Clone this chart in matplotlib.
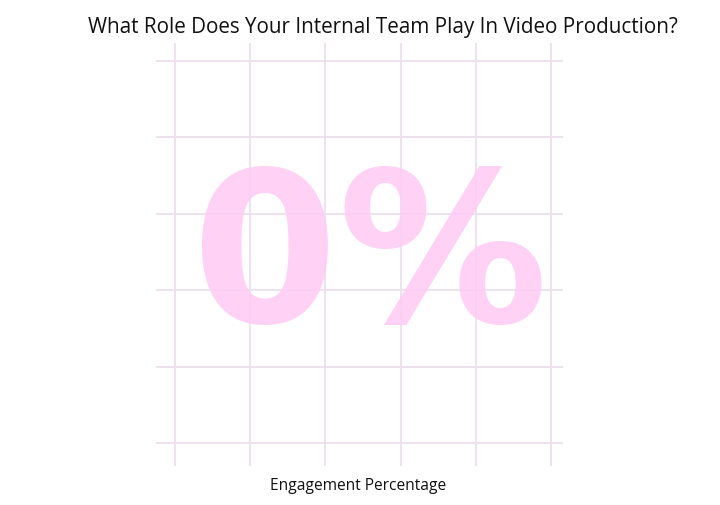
import matplotlib
matplotlib.use("Agg")
import matplotlib.pyplot as plt

# chart data
title = "What Role Does Your Internal Team Play In Video Production?"
x_label = "Engagement Percentage"
value_text = "0%"
x_ticks = [0, 1, 2, 3, 4, 5]
y_ticks = [0, 1, 2, 3, 4, 5]

grid_color = "#eedfee"
pink = "#ffcdf4"

plt.rcParams['font.family'] = ['Open Sans', 'DejaVu Sans']

fig = plt.figure(figsize=(7.2, 5.06), dpi=100)
ax = fig.add_axes([175 / 720, 1 - 444 / 506, 376 / 720, 382 / 506])
ax.set_xlim(0, 5)
ax.set_ylim(0, 5)

# grid lines run a bit past the plot area
ax.vlines(x_ticks, -0.3, 5.24, color=grid_color, lw=1.3, clip_on=False, zorder=1)
ax.hlines(y_ticks, -0.25, 5.16, color=grid_color, lw=1.3, clip_on=False, zorder=1)

ax.text(2.59, 2.36, value_text, ha="center", va="center", fontsize=151,
        fontweight="bold", family="DejaVu Sans", color=pink, alpha=0.92, zorder=2)

for s in ax.spines.values():
    s.set_visible(False)
ax.set_xticks([])
ax.set_yticks([])

fig.text(383 / 720, 1 - 28 / 506, title, ha="center", va="center",
         fontsize=14.9, color="#111111")
fig.text(358 / 720, 1 - 486 / 506, x_label, ha="center", va="center",
         fontsize=11.2, color="#111111")

fig.savefig("out.png", dpi=100)
